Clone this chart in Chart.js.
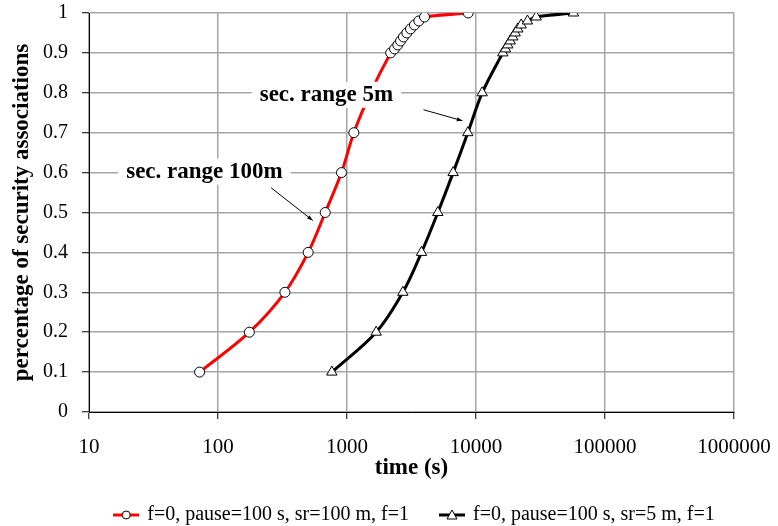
<!DOCTYPE html>
<html>
<head>
<meta charset="utf-8">
<script src="https://cdn.jsdelivr.net/npm/chart.js@4/dist/chart.umd.min.js"></script>
<style>
  html, body { margin: 0; padding: 0; background: #fff; }
  #wrap { width: 778px; height: 526px; }
</style>
</head>
<body>
<div id="wrap"><canvas id="myChart"></canvas></div>
<script>
// tick labels
const xTicks = [10, 100, 1000, 10000, 100000, 1000000];
const yTicks = [0, 0.1, 0.2, 0.3, 0.4, 0.5, 0.6, 0.7, 0.8, 0.9, 1];

// series: sec. range 100m (red, circles)
const redLabel = 'f=0, pause=100 s, sr=100 m, f=1';
const redTime = [72, 175, 330, 500, 678, 906, 1130, 1520, 2180, 2335, 2475, 2600, 2740, 2910, 3105, 3335, 3605, 3990, 8700];
const redPct = [0.1, 0.2, 0.3, 0.4, 0.5, 0.6, 0.7, 0.8, 0.9, 0.91, 0.92, 0.93, 0.94, 0.95, 0.96, 0.97, 0.98, 0.99, 1];

// series: sec. range 5m (black, triangles)
const blackLabel = 'f=0, pause=100 s, sr=5 m, f=1';
const blackTime = [763, 1683, 2710, 3780, 5060, 6650, 8640, 11170, 16140, 16940, 17660, 18420, 19290, 20130, 21090, 22390, 25060, 29290, 57000];
const blackPct = [0.1, 0.2, 0.3, 0.4, 0.5, 0.6, 0.7, 0.8, 0.9, 0.91, 0.92, 0.93, 0.94, 0.95, 0.96, 0.97, 0.98, 0.99, 1];

// text labels with arrows (in data coordinates)
const notes = [
    { text: 'sec. range 5m', x: 693, y: 0.795, from: [3917, 0.7575], to: [7850, 0.73] },
    { text: 'sec. range 100m', x: 78.5, y: 0.6025, from: [258, 0.562], to: [543, 0.48] }
];

const serif = 'Liberation Serif, Times New Roman, serif';

function toPoints(xs, ys) {
    return xs.map(function (v, i) {
        return { x: v, y: ys[i] };
    });
}

// small legend icon: line with marker in the middle
function legendIcon(color, style) {
    const c = document.createElement('canvas');
    c.width = 26;
    c.height = 14;
    const g = c.getContext('2d');
    g.strokeStyle = color;
    g.lineWidth = 3;
    g.beginPath();
    g.moveTo(0, 7);
    g.lineTo(26, 7);
    g.stroke();
    g.fillStyle = '#fff';
    g.strokeStyle = '#000';
    g.lineWidth = 1;
    g.beginPath();
    if (style === 'circle') {
        g.arc(13, 7, 4, 0, Math.PI * 2);
    } else {
        g.moveTo(13, 2);
        g.lineTo(18, 11);
        g.lineTo(8, 11);
        g.closePath();
    }
    g.fill();
    g.stroke();
    return c;
}

const notesPlugin = {
    id: 'notes',
    afterDatasetsDraw(chart) {
        const ctx = chart.ctx;
        const xs = chart.scales.x, ys = chart.scales.y;
        ctx.save();
        notes.forEach(function (n) {
            // arrow
            const x1 = xs.getPixelForValue(n.from[0]), y1 = ys.getPixelForValue(n.from[1]);
            const x2 = xs.getPixelForValue(n.to[0]), y2 = ys.getPixelForValue(n.to[1]);
            ctx.strokeStyle = '#000';
            ctx.fillStyle = '#000';
            ctx.lineWidth = 1;
            ctx.beginPath();
            ctx.moveTo(x1, y1);
            ctx.lineTo(x2, y2);
            ctx.stroke();
            const a = Math.atan2(y2 - y1, x2 - x1);
            ctx.beginPath();
            ctx.moveTo(x2, y2);
            ctx.lineTo(x2 - 6 * Math.cos(a - 0.35), y2 - 6 * Math.sin(a - 0.35));
            ctx.lineTo(x2 - 6 * Math.cos(a + 0.35), y2 - 6 * Math.sin(a + 0.35));
            ctx.closePath();
            ctx.fill();

            // text on white box
            ctx.font = 'bold 23px ' + serif;
            const px = xs.getPixelForValue(n.x), py = ys.getPixelForValue(n.y);
            const w = ctx.measureText(n.text).width;
            ctx.fillStyle = '#fff';
            ctx.fillRect(px - w / 2 - 8, py - 13, w + 16, 26);
            ctx.fillStyle = '#000';
            ctx.textAlign = 'center';
            ctx.textBaseline = 'middle';
            ctx.fillText(n.text, px, py);
        });
        ctx.restore();
    }
};

new Chart(document.getElementById('myChart'), {
    type: 'line',
    data: {
        datasets: [{
            label: redLabel,
            data: toPoints(redTime, redPct),
            borderColor: '#ff0000',
            borderWidth: 3,
            tension: 0.35,
            pointStyle: 'circle',
            pointRadius: 5,
            pointBackgroundColor: '#fff',
            pointBorderColor: '#000',
            pointBorderWidth: 1
        }, {
            label: blackLabel,
            data: toPoints(blackTime, blackPct),
            borderColor: '#000',
            borderWidth: 3,
            tension: 0.35,
            pointStyle: 'triangle',
            pointRadius: 6,
            pointBackgroundColor: '#fff',
            pointBorderColor: '#000',
            pointBorderWidth: 1
        }]
    },
    options: {
        responsive: true,
        maintainAspectRatio: false,
        animation: false,
        // negative right padding widens the legend box so it centres like the original
        layout: { padding: { top: 13, right: -52, left: 0, bottom: -9 } },
        plugins: {
            tooltip: { enabled: false },
            legend: {
                position: 'bottom',
                labels: {
                    usePointStyle: true,
                    pointStyleWidth: 22,
                    padding: 32,
                    color: '#000',
                    font: { family: serif, size: 20 },
                    generateLabels: function (chart) {
                        return [
                            { text: redLabel, pointStyle: legendIcon('#ff0000', 'circle'), datasetIndex: 0, lineWidth: 0, fillStyle: '#fff', strokeStyle: '#fff' },
                            { text: blackLabel, pointStyle: legendIcon('#000', 'triangle'), datasetIndex: 1, lineWidth: 0, fillStyle: '#fff', strokeStyle: '#fff' }
                        ];
                    }
                }
            }
        },
        scales: {
            x: {
                type: 'logarithmic',
                min: 10,
                max: 1000000,
                afterBuildTicks: function (axis) {
                    axis.ticks = xTicks.map(function (v) { return { value: v }; });
                },
                afterFit: function (axis) {
                    axis.height = 61;
                    axis.paddingLeft = 0;
                    axis.paddingRight = 44;
                },
                ticks: {
                    color: '#000',
                    padding: 16,
                    maxRotation: 0,
                    autoSkip: false,
                    font: { family: serif, size: 21 },
                    callback: function (v) { return String(v); }
                },
                grid: { color: '#a6a6a6', lineWidth: 1.5, tickLength: 7, tickColor: '#000', tickWidth: 1 },
                border: { color: '#000', width: 1 },
                title: {
                    display: true,
                    text: 'time (s)',
                    color: '#000',
                    font: { family: serif, size: 23, weight: 'bold' },
                    padding: { top: 0, bottom: -9 }
                }
            },
            y: {
                min: 0,
                max: 1,
                afterBuildTicks: function (axis) {
                    axis.ticks = yTicks.map(function (v) { return { value: v }; });
                },
                afterFit: function (axis) {
                    axis.width = 89;
                    axis.paddingTop = 0;
                    axis.paddingBottom = 0;
                },
                ticks: {
                    color: '#000',
                    padding: 14,
                    font: { family: serif, size: 20 },
                    callback: function (v) { return String(Math.round(v * 10) / 10); }
                },
                grid: { color: '#a6a6a6', lineWidth: 1.5, tickLength: 7, tickColor: '#000', tickWidth: 1 },
                border: { color: '#000', width: 1 },
                title: {
                    display: true,
                    text: 'percentage of security associations',
                    color: '#000',
                    font: { family: serif, size: 23, weight: 'bold' },
                    padding: { top: 8, bottom: 0 }
                }
            }
        }
    },
    plugins: [notesPlugin]
});
</script>
</body>
</html>
